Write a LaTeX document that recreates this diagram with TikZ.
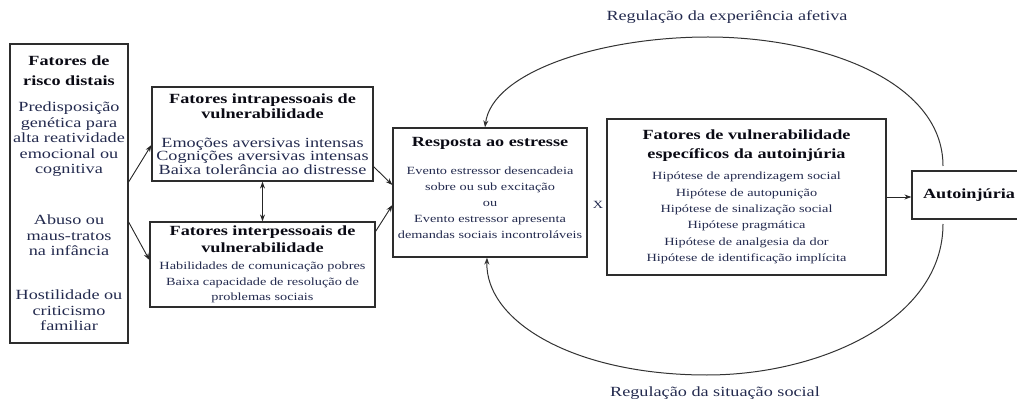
\documentclass[tikz,border=0pt]{standalone}
\usepackage{fontspec}
\setmainfont[FakeStretch=1.3]{Liberation Serif}
\usepackage{xcolor}
\usetikzlibrary{arrows.meta,positioning,calc}
\definecolor{boxline}{RGB}{45,45,45}
\definecolor{bodytext}{RGB}{35,42,78}
\definecolor{titletext}{RGB}{10,10,20}
\newcommand{\boxtitle}[1]{{\fontsize{14}{15.5}\selectfont\bfseries\color{titletext}#1}}

\begin{document}
\begin{tikzpicture}[x=1pt, y=-1pt,
    factor/.style={rectangle, draw=boxline, line width=1.2pt, align=center, inner sep=0pt, text=bodytext},
    bigfont/.style={font=\fontsize{14}{#1}\selectfont},
    smallfont/.style={font=\fontsize{11}{#1}\selectfont},
    dependency/.style={-{Stealth[length=7pt,width=5pt]}, line width=0.9pt, black!85},
    loop/.style={-{Stealth[length=7pt,width=5pt]}, line width=1pt, black!80}
]
\useasboundingbox (0,0) rectangle (1017,403);

% Factors
\node[factor, bigfont=15.5, minimum width=118pt, minimum height=299pt] (distal) at (69,193.5)
  {\boxtitle{Fatores de}\\[4.5pt]\boxtitle{risco distais}\\[10.5pt]
   Predisposição\\genética para\\alta reatividade\\emocional ou\\cognitiva\\[35.5pt]
   Abuso ou\\maus-tratos\\na infância\\[28.5pt]
   Hostilidade ou\\criticismo\\familiar};
\node[factor, bigfont=13.3, minimum width=221pt, minimum height=94pt] (intra) at (262.5,134)
  {\boxtitle{Fatores intrapessoais de}\\[1.7pt]\boxtitle{vulnerabilidade}\\[15.7pt]
   Emoções aversivas intensas\\Cognições aversivas intensas\\Baixa tolerância ao distresse};
\node[factor, smallfont=15.5, minimum width=225pt, minimum height=85pt] (inter) at (262.5,264.5)
  {\boxtitle{Fatores interpessoais de}\\[1.5pt]\boxtitle{vulnerabilidade}\\[1.5pt]
   Habilidades de comunicação pobres\\Baixa capacidade de resolução de\\problemas sociais};
\node[factor, smallfont=16, minimum width=194pt, minimum height=129pt] (stress) at (490,192.5)
  {\boxtitle{Resposta ao estresse}\\[12pt]
   Evento estressor desencadeia\\sobre ou sub excitação\\ou\\Evento estressor apresenta\\demandas sociais incontroláveis\\[-7pt]\mbox{}};
\node[factor, smallfont=16.4, minimum width=279pt, minimum height=156pt] (specific) at (746.5,197)
  {\boxtitle{Fatores de vulnerabilidade}\\[2.6pt]\boxtitle{específicos da autoinjúria}\\[4.6pt]
   Hipótese de aprendizagem social\\Hipótese de autopunição\\Hipótese de sinalização social\\
   Hipótese pragmática\\Hipótese de analgesia da dor\\Hipótese de identificação implícita};
\node[factor, minimum width=114pt, minimum height=48pt] (selfinjury) at (969,195)
  {\boxtitle{Autoinjúria}};

% Labels
\node[smallfont=12, text=bodytext] (times) at (598,205) {X};
\node[bigfont=15, text=bodytext] (afetiva) at (727,17) {Regulação da experiência afetiva};
\node[bigfont=15, text=bodytext] (social) at (715,393) {Regulação da situação social};
\coordinate (afetivastart) at (943,166);
\coordinate (socialstart) at (943,224);

% Dependencies
\draw[dependency] ([yshift=11.5pt]distal.east) -- ([yshift=-11pt]intra.west);
\draw[dependency] ([yshift=-28.5pt]distal.east) -- ([yshift=4.5pt]inter.west);
\draw[dependency] ([yshift=15pt]intra.south east) -- ([yshift=7.5pt]stress.west);
\draw[dependency] ([yshift=-10pt]inter.north east) -- ([yshift=-12.5pt]stress.west);
\draw[dependency, {Stealth[length=7pt,width=5pt]}-{Stealth[length=7pt,width=5pt]}] (intra.south) -- (inter.north);
\draw[dependency] (specific.east) -- (specific.east -| selfinjury.west);

% Feedback loops
\draw[loop] (afetivastart) .. controls (943,80) and (820,37) .. (708,37)
  .. controls (600,37) and (492,72) .. ([xshift=-5pt]stress.north);
\draw[loop] (socialstart) .. controls (943,320) and (820,375) .. (707,375)
  .. controls (575,375) and (485,322) .. ([xshift=-3pt]stress.south);

\end{tikzpicture}
\end{document}
